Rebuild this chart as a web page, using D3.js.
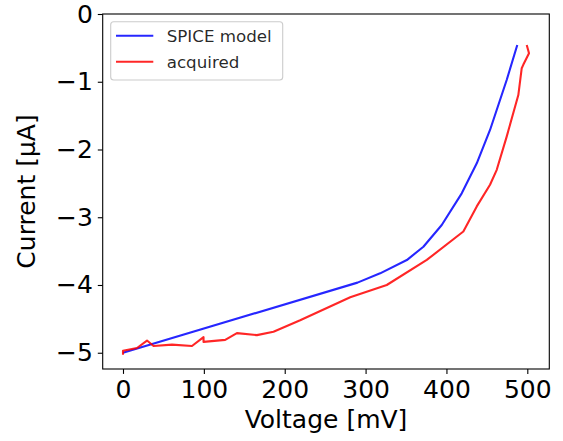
<!DOCTYPE html>
<html>
<head>
<meta charset="utf-8">
<script src="https://cdn.jsdelivr.net/npm/d3@7"></script>
<style>
  html, body { margin: 0; padding: 0; background: #fff; }
  svg { display: block; font-family: "DejaVu Sans", sans-serif; }
</style>
</head>
<body>
<svg id="chart" width="563" height="441"></svg>
<script>
// ---- data ----
const blueV = [0, 290, 318, 351, 371.5, 394.2, 418.9, 437.5, 453.9, 474.5, 487.6];
const blueI = [-5.0, -3.965, -3.828, -3.632, -3.435, -3.115, -2.647, -2.204, -1.712, -0.974, -0.458];

const redV = [0, 0, 17.3, 29.7, 37.8, 60.6, 85.3, 99.6, 99.6, 126.4, 140.9, 165.6, 186.1, 219.1, 281, 326.2, 375.7, 420.9, 437.5, 453.9, 462.2, 474.5, 488.9, 493.1, 495.0, 502.1, 499.3];
const redI = [-5.03, -4.97, -4.93, -4.82, -4.90, -4.88, -4.90, -4.77, -4.84, -4.81, -4.71, -4.74, -4.69, -4.52, -4.18, -4.00, -3.63, -3.21, -2.84, -2.52, -2.30, -1.81, -1.196, -0.80, -0.75, -0.58, -0.458];

const xTicks = [0, 100, 200, 300, 400, 500];
const yTicks = [0, -1, -2, -3, -4, -5];
const seriesNames = ["SPICE model", "acquired"];
const seriesColors = ["#0000ff", "#ff0000"];
const xLabel = "Voltage [mV]";
const yLabel = "Current [\u03bcA]";

// ---- layout ----
const L = 102.7, R = 549.3, T = 14, B = 369;
const svg = d3.select("#chart");
const x = d3.scaleLinear().domain([-25.1, 527.2]).range([L, R]);
const y = d3.scaleLinear().domain([-5.24, 0]).range([B, T]);

svg.append("defs").append("clipPath").attr("id", "clip")
  .append("rect").attr("x", L).attr("y", T).attr("width", R - L).attr("height", B - T);

const line = d3.line().x(d => x(d[0])).y(d => y(d[1]));
const series = [d3.zip(blueV, blueI), d3.zip(redV, redI)];

const plot = svg.append("g").attr("clip-path", "url(#clip)");
series.forEach((s, i) => {
  plot.append("path").datum(s)
    .attr("d", line)
    .attr("fill", "none")
    .attr("stroke", seriesColors[i])
    .attr("stroke-opacity", 0.85)
    .attr("stroke-width", 2.1)
    .attr("stroke-linejoin", "round")
    .attr("stroke-linecap", "butt");
});

// axes
const xAxis = d3.axisBottom(x).tickValues(xTicks).tickSize(4.9).tickPadding(4.9)
  .tickFormat(d => String(d));
const yAxis = d3.axisLeft(y).tickValues(yTicks).tickSize(4.9).tickPadding(4.9)
  .tickFormat(d => d < 0 ? "\u2212" + Math.abs(d) : String(d));

const gx = svg.append("g").attr("transform", `translate(0,${B})`).call(xAxis);
const gy = svg.append("g").attr("transform", `translate(${L},0)`).call(yAxis);
[gx, gy].forEach(g => {
  g.select(".domain").remove();
  g.selectAll(".tick line").attr("stroke", "#000").attr("stroke-width", 1.1);
  g.selectAll(".tick text").attr("fill", "#000").attr("font-size", 25)
    .attr("font-family", "DejaVu Sans, sans-serif");
});
gx.selectAll(".tick text").attr("dy", "0.76em");

// frame
svg.append("rect").attr("x", L).attr("y", T).attr("width", R - L).attr("height", B - T)
  .attr("fill", "none").attr("stroke", "#000").attr("stroke-width", 1.1);

// axis labels
svg.append("text").attr("x", (L + R) / 2).attr("y", 428)
  .attr("text-anchor", "middle").attr("font-size", 25).attr("fill", "#000")
  .text(xLabel);
svg.append("text")
  .attr("transform", `translate(35,${(T + B) / 2}) rotate(-90)`)
  .attr("text-anchor", "middle").attr("font-size", 25).attr("fill", "#000")
  .text(yLabel);

// legend
const lg = svg.append("g");
lg.append("rect").attr("x", 110.7).attr("y", 21.7).attr("width", 172).attr("height", 58.3)
  .attr("rx", 3).attr("fill", "#fff").attr("fill-opacity", 0.8)
  .attr("stroke", "#cccccc").attr("stroke-width", 1.1);
seriesNames.forEach((n, i) => {
  const yy = 35.7 + i * 26;
  lg.append("line").attr("x1", 116).attr("x2", 153.3).attr("y1", yy).attr("y2", yy)
    .attr("stroke", seriesColors[i]).attr("stroke-opacity", 0.85).attr("stroke-width", 2.1);
  lg.append("text").attr("x", 166.7).attr("y", yy).attr("dy", "0.36em")
    .attr("font-size", 16.7).attr("fill", "#000").attr("fill-opacity", 0.85).text(n);
});
</script>
</body>
</html>
